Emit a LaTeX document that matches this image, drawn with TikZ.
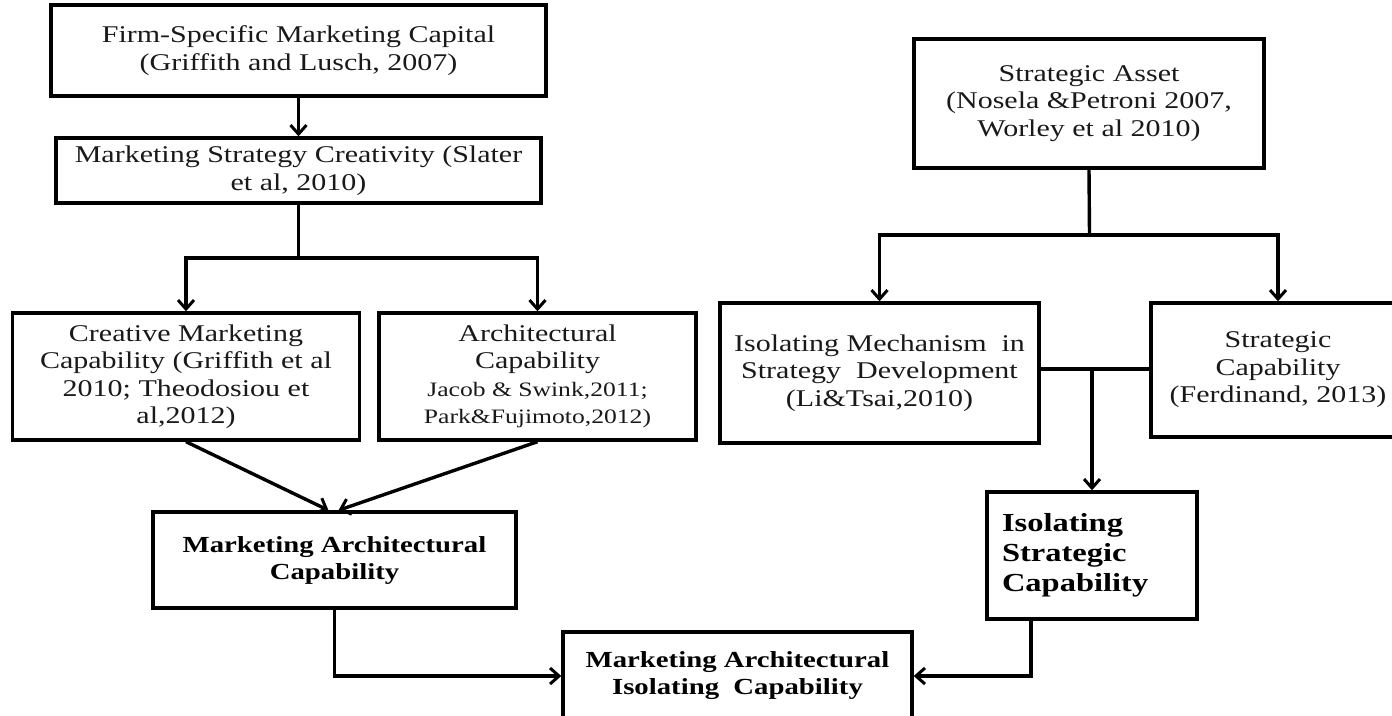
\documentclass[tikz,border=0pt]{standalone}
\usepackage{fontspec}
\setmainfont{Liberation Serif}[FakeStretch=1.25]
\usetikzlibrary{arrows.meta,calc}
\newcommand{\smallref}{\fontsize{20.5}{23}\selectfont}
\begin{document}
\begin{tikzpicture}[x=1pt,y=-1pt,
  box/.style={draw, line width=3.4pt, rectangle, inner sep=0pt, align=center,
    text=black!90, font=\fontsize{24}{27.5}\selectfont},
  boldbox/.style={box, text=black, font=\fontsize{23}{27}\selectfont\bfseries},
  link/.style={line width=3.4pt},
  arr/.style={line width=3.4pt, -{Straight Barb[length=9pt,width=16pt,line width=3pt]}}]
\clip (0,0) rectangle (1392,715);

% left branch
\node[box, minimum width=495pt, minimum height=91pt] (A) at (298.5,50.5)
  {Firm-Specific Marketing Capital\\(Griffith and Lusch, 2007)};
\node[box, minimum width=485pt, minimum height=65pt] (B) at (298.5,170.5)
  {Marketing Strategy Creativity (Slater\\et al, 2010)};
\node[box, minimum width=347pt, minimum height=127pt] (C) at (186,376.5)
  {Creative Marketing\\Capability (Griffith et al\\2010; Theodosiou et\\al,2012)};
\node[box, minimum width=317pt, minimum height=127pt] (D) at (537.5,376.5)
  {Architectural\\Capability\\\smallref Jacob \& Swink,2011;\\\smallref Park\&Fujimoto,2012)};
\node[boldbox, minimum width=363pt, minimum height=96pt] (E) at (334.5,560)
  {Marketing Architectural\\Capability};

% bottom result
\node[boldbox, minimum width=349pt, minimum height=88pt] (F) at (737.5,676)
  {Marketing Architectural\\Isolating\ \ Capability};

% right branch
\node[box, minimum width=350pt, minimum height=129pt] (G) at (1089,103.5)
  {Strategic Asset\\(Nosela \&Petroni 2007,\\Worley et al 2010)};
\node[box, minimum width=319pt, minimum height=140pt] (H) at (879.5,373)
  {Isolating Mechanism\ \ in\\Strategy\ \ Development\\(Li\&Tsai,2010)};
\node[box, minimum width=254pt, minimum height=134pt] (I) at (1278,370)
  {Strategic\\Capability\\(Ferdinand, 2013)};
\node[boldbox, align=left, text width=180pt, minimum width=210pt, minimum height=127pt,
  font=\fontsize{26}{30}\selectfont\bfseries] (J) at (1092,555.5)
  {Isolating\\Strategic\\Capability};

% junction points
\coordinate (bsplit) at (298.5,258);
\coordinate (gsplit) at (1089.5,235);
\coordinate (hmid) at (1092,369);
\coordinate (jout) at (1031,619);

% connectors, left
\draw[arr] (A.south) -- (B.north);
\draw[link] (B.south) -- (bsplit);
\draw[arr] (bsplit) -| (C.north);
\draw[arr] (bsplit) -| (D.north);
\draw[arr] (C.south) -- ($(E.north)+(-6,0)$);
\draw[arr] (D.south) -- ($(E.north)+(4,0)$);
\draw[arr] (E.south) |- (F.west);

% connectors, right
\draw[link] (G.south) -- (gsplit);
\draw[arr] (gsplit) -| (H.north);
\draw[arr] (gsplit) -| (I.north);
\draw[link] (H.east |- hmid) -- (I.west |- hmid);
\draw[arr] (hmid) -- (J.north);
\draw[arr] (jout) |- (F.east);
\end{tikzpicture}
\end{document}
